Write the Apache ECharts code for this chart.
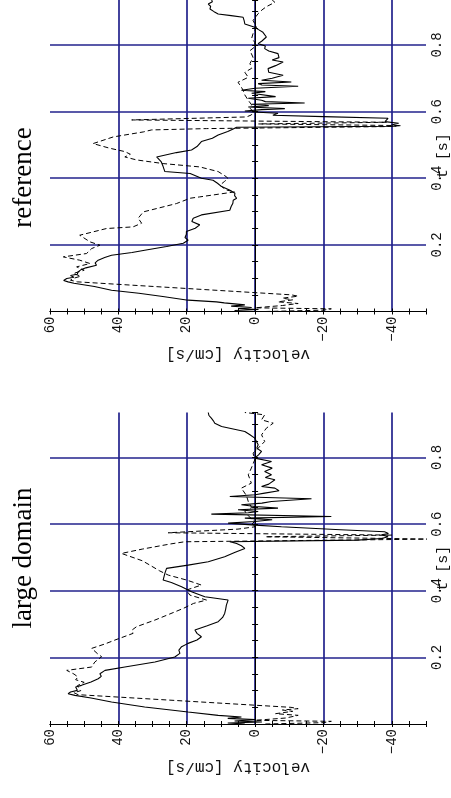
<!DOCTYPE html>
<html>
<head>
<meta charset="utf-8">
<script src="https://cdn.jsdelivr.net/npm/echarts@6/dist/echarts.min.js"></script>
<style>
  html, body { margin: 0; padding: 0; background: #fff; }
  #chart { width: 451px; height: 798px; }
</style>
</head>
<body>
<div id="chart"></div>
<script>
// Velocity traces: each point is [t in s, velocity in cm/s]
const referenceSolid = [[0,2],[0.003,6],[0.006,-1],[0.009,5],[0.012,1],[0.016,7],[0.02,3],[0.026,9],[0.029,11.3],[0.034,19.6],[0.045,27],[0.055,34],[0.064,42],[0.075,47],[0.085,53],[0.089,54.7],[0.093,56],[0.099,55.1],[0.103,53],[0.108,54],[0.112,52],[0.119,51.8],[0.125,51],[0.131,49.5],[0.139,46.4],[0.146,46.8],[0.154,45.9],[0.162,44],[0.169,42],[0.177,36],[0.184,32.3],[0.195,25.9],[0.205,21],[0.214,19.6],[0.222,20.5],[0.232,20.1],[0.24,20.1],[0.25,17.5],[0.26,16.2],[0.27,18.5],[0.28,18.1],[0.29,15.7],[0.304,7.4],[0.315,7],[0.325,6.5],[0.334,6.4],[0.34,5.4],[0.348,6],[0.355,5.9],[0.365,7.5],[0.375,9.8],[0.385,11],[0.394,12.3],[0.4,15.7],[0.414,19],[0.42,26.4],[0.435,26.9],[0.45,27.5],[0.464,28.8],[0.47,29.3],[0.477,23],[0.485,18.6],[0.495,17],[0.51,15.7],[0.52,12.5],[0.53,10.8],[0.54,8],[0.548,6.4],[0.553,5.4],[0.556,-41.3],[0.56,-39.9],[0.565,-42],[0.57,-38],[0.574,-38.4],[0.58,-38.9],[0.585,-20],[0.589,-5.2],[0.595,-6.7],[0.599,0.6],[0.602,3],[0.606,-2],[0.609,-8.7],[0.614,2],[0.618,-4],[0.622,1],[0.626,-14.5],[0.63,-3],[0.634,-1.9],[0.64,2],[0.645,-6],[0.649,-5.8],[0.655,1],[0.66,-3],[0.664,4],[0.67,0],[0.676,-12.6],[0.68,-2],[0.684,-0.9],[0.689,-10.6],[0.694,-1.9],[0.7,-5],[0.709,-8.2],[0.718,-4],[0.729,-3.8],[0.738,-6],[0.749,-8.2],[0.755,-5],[0.762,-7],[0.774,-6.7],[0.782,-4],[0.789,-2.8],[0.797,-3],[0.804,-0.9],[0.812,-2],[0.824,-3.3],[0.838,-2.3],[0.846,-1],[0.853,0.1],[0.863,3],[0.873,3.2],[0.883,3.5],[0.888,7],[0.893,10.8],[0.9,12],[0.908,13.2],[0.916,13],[0.923,13.7],[0.93,12.5],[0.935,12.7]];

const referenceDashed = [[0,-3],[0.004,-20],[0.008,-22.3],[0.011,0],[0.018,-8],[0.024,-12.6],[0.029,-6.7],[0.035,-11],[0.04,-8],[0.046,-12.6],[0.05,-10.6],[0.089,52],[0.094,54],[0.1,53],[0.106,51],[0.114,53.2],[0.124,50],[0.134,52.2],[0.144,48.3],[0.154,51.3],[0.164,56.1],[0.174,49.3],[0.189,47.8],[0.199,45.4],[0.209,48.3],[0.229,51.3],[0.249,43.5],[0.254,35.7],[0.265,33.2],[0.28,34.2],[0.284,34.7],[0.299,32.7],[0.305,32.3],[0.324,23],[0.34,19],[0.344,16.2],[0.359,6],[0.365,8.5],[0.379,10.3],[0.39,9],[0.399,7.9],[0.405,8.5],[0.42,10.8],[0.434,16.2],[0.444,26.9],[0.455,34.7],[0.464,38.1],[0.472,36.5],[0.48,38.1],[0.49,42.5],[0.504,47.4],[0.51,47.4],[0.524,41.5],[0.539,32.7],[0.545,30.3],[0.549,14.2],[0.555,-38],[0.558,-42.8],[0.563,-1],[0.568,-38.5],[0.575,36.1],[0.584,2.5],[0.59,1.1],[0.6,0.5],[0.61,1.5],[0.62,1],[0.634,2],[0.65,3],[0.664,3.5],[0.673,4],[0.688,5],[0.703,2],[0.718,3],[0.73,1],[0.744,1.5],[0.763,0.6],[0.783,1.5],[0.795,0],[0.808,0.1],[0.82,1],[0.834,0.6],[0.853,-0.4],[0.874,0.6],[0.894,-0.9],[0.905,-2],[0.915,-3.3],[0.928,-5.8],[0.935,-5]];

const largeSolid = [[0,3],[0.003,8],[0.006,-2],[0.009,6],[0.013,0],[0.017,8],[0.021,4],[0.026,10.8],[0.036,19.6],[0.051,32.3],[0.066,42],[0.078,48],[0.086,52.7],[0.091,54.7],[0.096,54],[0.101,52],[0.106,51.8],[0.111,52.5],[0.116,50.8],[0.126,48],[0.136,45.9],[0.143,45],[0.151,45.4],[0.161,43.9],[0.171,38.1],[0.186,29.3],[0.201,23.5],[0.212,22],[0.222,22.3],[0.232,21.5],[0.242,19.6],[0.252,17],[0.262,15.7],[0.272,17],[0.282,17.6],[0.295,14],[0.307,10.8],[0.32,9.5],[0.332,8.9],[0.345,8.6],[0.357,8.4],[0.372,7.9],[0.382,14.7],[0.397,18.6],[0.412,21.5],[0.425,24.5],[0.432,26.9],[0.452,26.4],[0.467,25.9],[0.477,19.6],[0.487,13.7],[0.502,8.9],[0.515,6],[0.527,3],[0.535,4],[0.542,5.4],[0.547,7.4],[0.552,-30],[0.557,-37],[0.562,-38.9],[0.568,-37],[0.572,-39],[0.577,-37.9],[0.583,-25],[0.592,-7.7],[0.597,0],[0.603,7.9],[0.608,0.1],[0.613,-5],[0.618,3],[0.623,-22.3],[0.63,12.8],[0.634,2],[0.638,-0.9],[0.643,5],[0.648,-6.7],[0.653,0],[0.658,4],[0.663,-2],[0.668,-4.8],[0.676,-16.5],[0.683,7.4],[0.688,0],[0.693,-2.8],[0.7,-7],[0.708,-5.8],[0.713,-1.9],[0.72,-4],[0.733,-5.8],[0.74,-3],[0.748,-4.8],[0.758,-2.8],[0.768,-5],[0.778,-1.9],[0.788,-4.8],[0.798,0.1],[0.808,-1],[0.818,-1.9],[0.828,-0.5],[0.838,-0.9],[0.858,0.1],[0.868,1.5],[0.878,3],[0.893,9.8],[0.903,11.8],[0.91,12.2],[0.918,12.8],[0.926,13.5],[0.935,13.7]];

const largeDashed = [[0,-3],[0.004,-20],[0.008,-22.3],[0.011,0],[0.018,-9],[0.026,-12.6],[0.031,-6],[0.038,-11],[0.042,-8],[0.046,-12.6],[0.05,-10.5],[0.088,51.8],[0.094,53],[0.1,51],[0.106,50.8],[0.115,52],[0.125,50],[0.133,52.5],[0.141,51.8],[0.15,53],[0.161,55.1],[0.171,47.8],[0.186,46.9],[0.202,44.9],[0.21,46],[0.227,47.8],[0.24,44],[0.252,41],[0.272,35.7],[0.282,36],[0.292,34.7],[0.312,29.3],[0.33,25],[0.347,21],[0.362,18],[0.372,14.2],[0.387,19.1],[0.402,20.1],[0.417,15.7],[0.432,20],[0.447,25.4],[0.46,28],[0.477,30.8],[0.49,33],[0.512,39.1],[0.525,33],[0.54,25],[0.547,20.6],[0.555,-52],[0.562,-3],[0.567,-40],[0.574,25.4],[0.585,5],[0.592,0],[0.6,1],[0.608,0.1],[0.625,2],[0.638,3],[0.65,1],[0.668,2],[0.685,2.5],[0.708,4],[0.723,1.1],[0.748,2],[0.768,1.1],[0.793,0.1],[0.813,0.6],[0.833,-1.4],[0.848,-2.8],[0.868,-1.9],[0.888,-3.3],[0.903,-5.3],[0.913,-1.9],[0.928,-2.8],[0.935,3]];

const panelTitles = ['reference', 'large domain'];
const velocityTickLabels = [-40, -20, 0, 20, 40, 60];
const velocityGridValues = [-40, -20, 0, 20, 40];
const timeTickLabels = [0.2, 0.4, 0.6, 0.8];
const velocityName = 'velocity [cm/s]';
const timeName = 't [s]';

// Axis ranges
const V_MIN = -50, V_MAX = 60, T_MIN = 0, T_MAX = 0.935;

// Layout of the two stacked panels (drawn sideways: time runs upward, velocity decreases to the right)
const PLOT_LEFT = 50, PLOT_WIDTH = 376, PLOT_HEIGHT = 311.5;
const panelTops = [0, 412.5];
const titleCenters = [177.5, 558];
const panelData = [
  { solid: referenceSolid, dashed: referenceDashed },
  { solid: largeSolid, dashed: largeDashed }
];

const GRID_COLOR = '#22228c';
const MONO = '"Liberation Mono", "Courier New", monospace';
const SERIF = '"Liberation Serif", "Times New Roman", serif';

const formatVelocity = v => (v < 0 ? '\u2212' + Math.abs(v) : String(v));

const grids = [], xAxes = [], yAxes = [], series = [], graphics = [];

panelTops.forEach((top, p) => {
  const rect = { left: PLOT_LEFT, top: top, width: PLOT_WIDTH, height: PLOT_HEIGHT, containLabel: false, outerBoundsMode: 'none' };
  const mainGrid = grids.length;
  grids.push(Object.assign({}, rect));      // labels, grid lines and traces
  const frameGrid = grids.length;
  grids.push(Object.assign({}, rect));      // frame with small inward ticks

  const mainX = xAxes.length;
  xAxes.push({
    gridIndex: mainGrid, type: 'value', min: V_MIN, max: V_MAX, inverse: true, position: 'bottom',
    axisLine: { show: false },
    axisTick: { show: false, customValues: velocityGridValues },
    axisLabel: {
      customValues: velocityTickLabels, rotate: 90, margin: 5,
      fontFamily: MONO, fontSize: 14, color: '#111', formatter: formatVelocity
    },
    splitLine: { show: true, lineStyle: { color: GRID_COLOR, width: 1.7 } },
    name: velocityName, nameLocation: 'middle', nameGap: 35, nameRotate: 180, nameMoveOverlap: false,
    nameTextStyle: { fontFamily: MONO, fontSize: 16, color: '#111' }
  });
  ['bottom', 'top'].forEach(pos => xAxes.push({
    gridIndex: frameGrid, type: 'value', min: V_MIN, max: V_MAX, interval: 5, inverse: true, position: pos,
    axisLine: { show: true, lineStyle: { color: '#000', width: 1 } },
    axisTick: { show: true, inside: true, length: 3, lineStyle: { color: '#000', width: 1 } },
    axisLabel: { show: false }, splitLine: { show: false }
  }));

  const mainY = yAxes.length;
  yAxes.push({
    gridIndex: mainGrid, type: 'value', min: T_MIN, max: T_MAX, position: 'right',
    axisLine: { show: false },
    axisTick: { show: false, customValues: timeTickLabels },
    axisLabel: {
      customValues: timeTickLabels, rotate: 90, margin: 4,
      fontFamily: MONO, fontSize: 14, color: '#111', formatter: v => v.toFixed(1)
    },
    splitLine: { show: true, lineStyle: { color: GRID_COLOR, width: 1.7 } },
    name: timeName, nameLocation: 'middle', nameGap: 10, nameRotate: 90, nameMoveOverlap: false,
    nameTextStyle: { fontFamily: MONO, fontSize: 15, color: '#111' }
  });
  ['left', 'right'].forEach(pos => yAxes.push({
    gridIndex: frameGrid, type: 'value', min: T_MIN, max: T_MAX, interval: 0.05, position: pos,
    axisLine: { show: true, lineStyle: { color: '#000', width: 1 } },
    axisTick: { show: true, inside: true, length: 3, lineStyle: { color: '#000', width: 1 } },
    axisLabel: { show: false }, splitLine: { show: false }
  }));

  const toXY = pts => pts.map(([t, v]) => [v, t]);
  series.push({
    type: 'line', xAxisIndex: mainX, yAxisIndex: mainY, data: toXY(panelData[p].solid),
    showSymbol: false, symbol: 'none', lineStyle: { color: '#000', width: 1.1 }, z: 3
  });
  series.push({
    type: 'line', xAxisIndex: mainX, yAxisIndex: mainY, data: toXY(panelData[p].dashed),
    showSymbol: false, symbol: 'none', lineStyle: { color: '#000', width: 1, type: [5, 3] }, z: 3
  });

  graphics.push({
    type: 'text', x: 24, y: titleCenters[p], rotation: Math.PI / 2,
    style: { text: panelTitles[p], fontFamily: SERIF, fontSize: 27, fill: '#000', align: 'center', verticalAlign: 'middle' }
  });
});

const chart = echarts.init(document.getElementById('chart'), null, { renderer: 'canvas' });
chart.setOption({
  animation: false,
  backgroundColor: '#fff',
  grid: grids,
  xAxis: xAxes,
  yAxis: yAxes,
  series: series,
  graphic: graphics
});
</script>
</body>
</html>
